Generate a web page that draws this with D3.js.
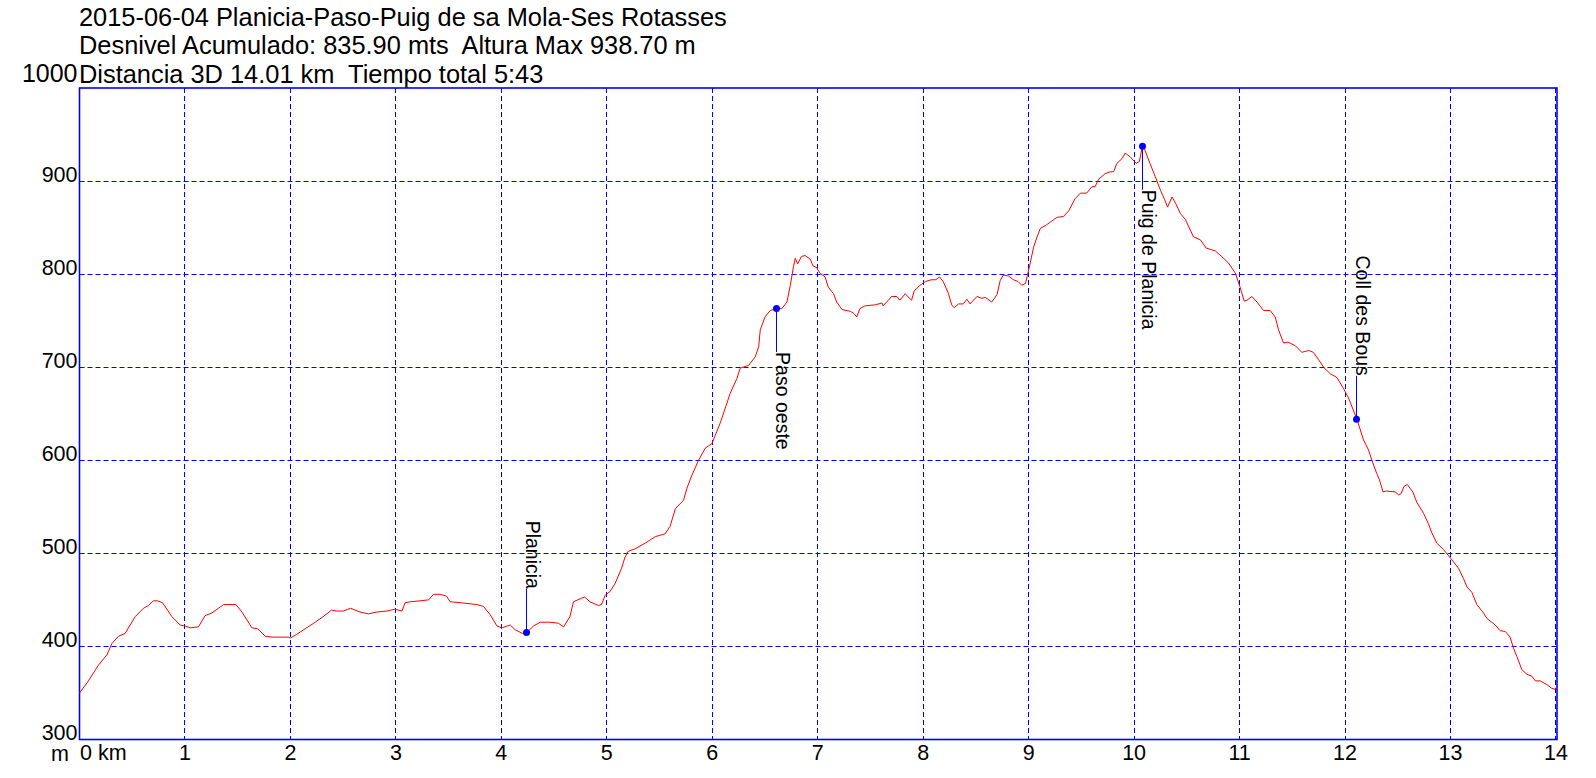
<!DOCTYPE html>
<html>
<head>
<meta charset="utf-8">
<script src="https://cdn.jsdelivr.net/npm/d3@7"></script>
<style>
  html, body { margin: 0; padding: 0; background: #ffffff; }
  svg { display: block; }
  text { font-family: "Liberation Sans", Arial, sans-serif; fill: #000; white-space: pre; }
</style>
</head>
<body>
<svg id="chart" width="1596" height="778"></svg>
<script>
// ---- Data ----
const titleLines = [
  "2015-06-04 Planicia-Paso-Puig de sa Mola-Ses Rotasses",
  "Desnivel Acumulado: 835.90 mts  Altura Max 938.70 m",
  "Distancia 3D 14.01 km  Tiempo total 5:43"
];

const distKm = [
  0.00,0.085,0.18,0.26,0.307,0.37,0.433,0.48,0.528,0.607,0.654,0.70,0.74,0.787,0.876,0.955,
  1.00,1.05,1.128,1.19,1.255,1.318,1.366,1.483,1.54,1.635,1.69,1.76,1.825,1.98,
  2.00,2.06,2.14,2.235,2.31,2.39,2.44,2.50,2.57,2.66,2.74,2.82,2.915,2.99,
  3.057,3.088,3.136,3.23,3.31,3.357,3.42,3.48,3.515,3.61,3.768,3.83,3.895,3.958,
  4.005,4.085,4.13,4.20,4.242,4.305,4.37,4.46,4.54,4.59,4.65,4.684,4.764,4.79,4.84,4.92,4.95,4.985,
  5.03,5.08,5.14,5.17,5.20,5.27,5.365,5.46,5.554,5.60,5.65,5.727,5.76,5.807,5.87,5.933,5.997,
  6.075,6.123,6.17,6.234,6.265,6.344,6.407,6.44,6.455,6.50,6.55,6.613,6.66,6.708,6.74,6.77,6.787,6.81,6.845,6.88,6.93,6.954,6.99,
  7.02,7.07,7.10,7.15,7.18,7.23,7.31,7.34,7.37,7.40,7.45,7.545,7.61,7.62,7.67,7.70,7.75,7.78,7.83,7.87,7.89,7.915,7.97,
  8.02,8.08,8.12,8.155,8.19,8.24,8.27,8.294,8.335,8.38,8.414,8.445,8.51,8.556,8.59,8.65,8.70,8.73,8.76,8.81,8.857,8.90,8.935,8.97,8.985,
  9.015,9.047,9.08,9.11,9.17,9.268,9.33,9.38,9.44,9.49,9.55,9.60,9.63,9.663,9.726,9.773,9.805,9.837,9.885,9.915,9.94,9.963,
  10.02,10.05,10.08,10.10,10.15,10.20,10.25,10.29,10.317,10.36,10.39,10.44,10.485,10.563,10.627,10.684,10.77,10.83,10.895,10.96,
  11.005,11.044,11.07,11.117,11.165,11.227,11.29,11.338,11.37,11.417,11.46,11.53,11.59,11.655,11.70,11.75,11.796,11.86,11.923,11.986,
  12.033,12.113,12.175,12.223,12.255,12.30,12.327,12.36,12.39,12.476,12.507,12.53,12.56,12.59,12.643,12.68,12.745,12.79,12.823,12.87,12.934,
  13.00,13.076,13.123,13.156,13.203,13.25,13.313,13.346,13.425,13.47,13.52,13.565,13.598,13.63,13.677,13.725,13.772,13.804,13.85,13.914,13.96,13.99,14.01
];
const elevM = [
  350,363,380,391,403,411,414,423,432,441,444,449,449,447,432,423,
  422,420,421,433,436,441,445,445,437,420,419,411,410,410,
  409,413,419,426,432,439,438,438,441,437,435,437,438,440,
  438,447,448,449,450,456,456,454,448,447,445,443,434,422,
  420,423,418,414,415,422,426,426,425,421,432,448,452,453,448,444,445,455,
  459,468,484,495,502,505,511,518,521,529,548,557,570,584,600,613,618,
  640,656,672,688,699,702,711,722,740,754,761,763,763,770,788,808,817,811,819,820,816,809,807,
  801,797,786,779,770,762,760,758,754,763,766,767,769,766,772,776,776,772,779,774,772,782,788,
  792,794,794,797,792,779,767,764,768,768,773,768,776,774,775,770,778,793,799,798,794,792,788,790,797,
  812,829,840,849,853,861,862,868,881,887,887,894,894,902,908,910,910,919,924,930,928,926,
  919,921,938,934,919,905,890,880,872,883,877,865,859,840,837,828,825,819,812,801,
  786,771,772,776,770,761,761,754,740,726,727,723,716,718,716,708,700,693,689,677,
  667,644,622,611,600,586,579,566,567,566,563,564,572,574,566,555,543,532,522,511,504,
  495,484,473,464,458,445,436,430,423,417,416,410,398,389,375,370,368,363,363,359,355,354,357
];

const waypointNames = ["Planicia", "Paso oeste", "Puig de Planicia", "Coll des Bous"];
const waypointKm    = [4.242, 6.613, 10.08, 12.113];
const waypointElev  = [415, 763, 937.5, 644];
const waypointSide  = ["above", "below", "below", "above"];

const xTicks = [0,1,2,3,4,5,6,7,8,9,10,11,12,13,14];
const yTicks = [300,400,500,600,700,800,900,1000];
const xMax = 14.01;

// ---- Layout ----
const svg = d3.select("#chart");
const plotL = 79.5, plotR = 1557, plotT = 88, plotB = 739.5;
const x = d3.scaleLinear().domain([0, xMax]).range([plotL, plotR]);
const y = d3.scaleLinear().domain([300, 1000]).range([plotB, plotT]);
const blue = "#0000ff";
const crisp = v => Math.round(v - 0.5) + 0.5;

// Title
svg.append("g").selectAll("text").data(titleLines).join("text")
  .attr("x", 79).attr("y", (d, i) => 25.5 + i * 28.5)
  .attr("font-size", 25.4).text(d => d);

// Grid
const grid = svg.append("g");
grid.selectAll("line.v").data(xTicks.filter(t => t > 0)).join("line")
  .attr("x1", d => crisp(x(d))).attr("x2", d => crisp(x(d)))
  .attr("y1", plotT).attr("y2", plotB)
  .attr("stroke", blue).attr("stroke-width", 1).attr("stroke-dasharray", "5,3");
grid.selectAll("line.h").data(yTicks.filter(t => t > 300 && t < 1000)).join("line")
  .attr("x1", plotL).attr("x2", plotR)
  .attr("y1", d => crisp(y(d))).attr("y2", d => crisp(y(d)))
  .attr("stroke", blue).attr("stroke-width", 1).attr("stroke-dasharray", "5,3");

// Border
svg.append("rect")
  .attr("x", plotL).attr("y", plotT).attr("width", plotR - plotL).attr("height", plotB - plotT)
  .attr("fill", "none").attr("stroke", blue).attr("stroke-width", 1.6);

// Y tick labels
svg.append("g").selectAll("text").data(yTicks).join("text")
  .attr("x", 77.5)
  .attr("y", d => d === 1000 ? 82 : y(d) + 0.5)
  .attr("text-anchor", "end")
  .attr("font-size", d => d === 1000 ? 25 : 21.5)
  .text(d => d);

// X tick labels
svg.append("g").selectAll("text").data(xTicks.filter(t => t > 0)).join("text")
  .attr("x", d => x(d)).attr("y", 760)
  .attr("text-anchor", "middle").attr("font-size", 21.5)
  .text(d => d);
svg.append("text").attr("x", 80).attr("y", 760).attr("font-size", 21.5).text(xTicks[0] + " km");
svg.append("text").attr("x", 69).attr("y", 761).attr("text-anchor", "end").attr("font-size", 21.5).text("m");

// Profile line
const pts = distKm.map((d, i) => [d, elevM[i]]);
svg.append("path")
  .datum(pts)
  .attr("d", d3.line().x(d => x(d[0])).y(d => y(d[1])))
  .attr("fill", "none").attr("stroke", "#ff0000").attr("stroke-width", 1)
  .attr("stroke-linejoin", "round");

// Waypoints
const offset = 43.5, fs = 19.5;
const wp = svg.append("g");
waypointNames.forEach((name, i) => {
  const px = crisp(x(waypointKm[i]));
  const py = y(waypointElev[i]);
  const g = wp.append("g");
  const t = g.append("text").attr("font-size", fs).text(name);
  const len = t.node().getComputedTextLength();
  let startY, lineEnd;
  if (waypointSide[i] === "above") {
    lineEnd = py - offset;
    startY = lineEnd - len;
  } else {
    lineEnd = py + offset;
    startY = lineEnd;
  }
  t.attr("transform", `translate(${px - 1},${startY}) rotate(90)`);
  g.append("line").attr("x1", px).attr("x2", px).attr("y1", py).attr("y2", lineEnd)
    .attr("stroke", blue).attr("stroke-width", 1);
  g.append("circle").attr("cx", px).attr("cy", py).attr("r", 3.5).attr("fill", blue);
});
</script>
</body>
</html>
